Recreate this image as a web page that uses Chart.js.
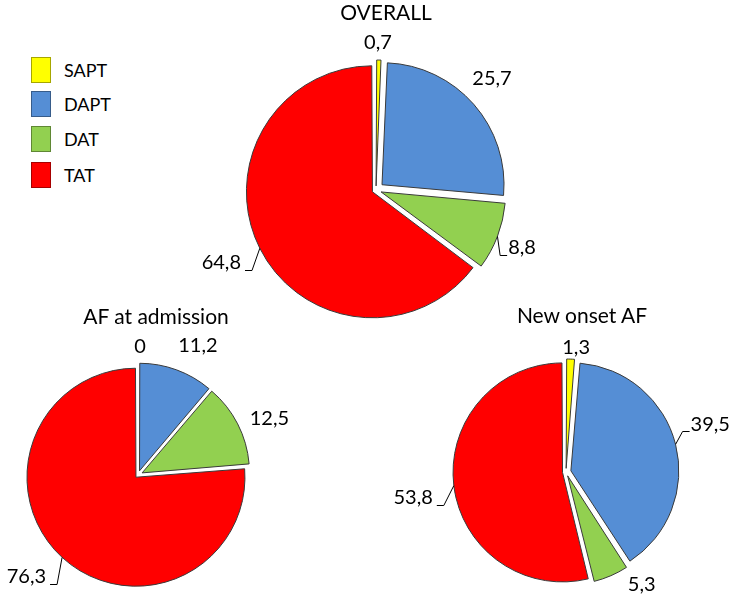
<!DOCTYPE html>
<html>
<head>
<meta charset="utf-8">
<script src="https://cdn.jsdelivr.net/npm/chart.js@4"></script>
<style>
    body { margin: 0; width: 734px; height: 600px; background: #fff; position: relative; overflow: hidden; font-family: Lato, sans-serif; }
    canvas { position: absolute; }
    .ttl { position: absolute; font-size: 21px; color: #000; transform: translate(-50%, -50%); white-space: nowrap; }
    .box { position: absolute; width: 20px; height: 26px; box-sizing: border-box; border: 1px solid rgba(0, 0, 0, 0.35); }
    .lbl { position: absolute; font-size: 18px; color: #000; transform: translateY(-50%); }
</style>
</head>
<body>
<script>
const categories = ["SAPT", "DAPT", "DAT", "TAT"];
const colors = ["#FFFF00", "#558ED5", "#92D050", "#FF0000"];

const overallValues = [0.7, 25.7, 8.8, 64.8];
const admissionValues = [0, 11.2, 12.5, 76.3];
const newOnsetValues = [1.3, 39.5, 5.3, 53.8];

const titles = ["OVERALL", "AF at admission", "New onset AF"];

// legend
const legendTops = [57, 91, 126, 162];
categories.forEach((name, i) => {
    const box = document.createElement("div");
    box.className = "box";
    box.style.left = "31px";
    box.style.top = legendTops[i] + "px";
    box.style.background = colors[i];
    document.body.appendChild(box);
    const lbl = document.createElement("div");
    lbl.className = "lbl";
    lbl.style.left = "64px";
    lbl.style.top = (legendTops[i] + 13) + "px";
    lbl.textContent = name;
    document.body.appendChild(lbl);
});

// value labels with optional elbow leader lines
const pieLabels = {
    id: "pieLabels",
    afterDatasetsDraw(chart, args, opts) {
        const ctx = chart.ctx;
        const ds = chart.data.datasets[0];
        const meta = chart.getDatasetMeta(0);
        ctx.save();
        ctx.font = "20px Lato";
        ctx.fillStyle = "#000";
        ctx.strokeStyle = "#000";
        ctx.lineWidth = 1;
        ctx.textAlign = "center";
        ctx.textBaseline = "middle";
        meta.data.forEach((arc, i) => {
            const p = arc.getProps(["x", "y", "startAngle", "endAngle", "outerRadius"], true);
            const mid = (p.startAngle + p.endAngle) / 2;
            const edge = p.outerRadius + opts.shift;
            const ex = p.x + Math.cos(mid) * edge;
            const ey = p.y + Math.sin(mid) * edge;
            const a = mid + opts.nudge[i] * Math.PI / 180;
            const d = edge + opts.gap[i];
            const lx = p.x + Math.cos(a) * d;
            const ly = p.y + Math.sin(a) * d;
            const text = String(ds.data[i]).replace(".", ",");
            ctx.fillText(text, lx, ly);
            if (opts.leader[i]) {
                const w = ctx.measureText(text).width;
                const by = Math.round(ly + 7) + 0.5;
                ctx.beginPath();
                ctx.moveTo(ex, ey);
                if (Math.cos(mid) > 0) {
                    const left = lx - w / 2 - 1;
                    ctx.lineTo(left - 7, by);
                    ctx.lineTo(left, by);
                } else {
                    const right = lx + w / 2 + 4;
                    ctx.lineTo(right + 7, by);
                    ctx.lineTo(right, by);
                }
                ctx.stroke();
            }
        });
        ctx.restore();
    },
};

// chart.js moves an arc by offset/4 and grows it by up to offset/4 depending
// on its sweep, so pick offsets that push every slice out by about the same amount
function offsetsFor(values, shift) {
    const total = values.reduce((s, v) => s + v, 0);
    return values.map((v) => {
        const c = v / total * 2 * Math.PI;
        return 4 * shift / (2 - Math.sin(Math.min(Math.PI, c)));
    });
}

function makePie(values, cx, cy, radius, shift, labelOpts, title, tx, ty) {
    const size = 420;
    const canvas = document.createElement("canvas");
    canvas.width = size;
    canvas.height = size;
    canvas.style.left = (cx - size / 2) + "px";
    canvas.style.top = (cy - size / 2) + "px";
    document.body.appendChild(canvas);

    const t = document.createElement("div");
    t.className = "ttl";
    t.style.left = tx + "px";
    t.style.top = ty + "px";
    t.textContent = title;
    document.body.appendChild(t);

    new Chart(canvas, {
        type: "pie",
        data: {
            labels: categories,
            datasets: [
                {
                    data: values,
                    backgroundColor: colors,
                    borderColor: "#3a3a3a",
                    borderWidth: 1,
                    offset: offsetsFor(values, shift),
                    hoverOffset: 0,
                },
            ],
        },
        options: {
            responsive: false,
            animation: false,
            radius: radius,
            layout: { padding: 0 },
            events: [],
            plugins: {
                legend: { display: false },
                tooltip: { enabled: false },
                pieLabels: Object.assign({ shift: shift }, labelOpts),
            },
        },
        plugins: [pieLabels],
    });
}

makePie(overallValues, 376, 190, 122, 8, {
    gap: [17, 31, 27, 41],
    nudge: [-0.5, -2.7, 0.7, 1.4],
    leader: [false, false, true, true],
}, titles[0], 386, 11);

makePie(admissionValues, 138, 475, 106, 6, {
    gap: [16, 31, 31, 39],
    nudge: [0.9, 4.6, 3.9, 5],
    leader: [false, false, false, true],
}, titles[1], 156, 315);

makePie(newOnsetValues, 566, 472, 106, 7, {
    gap: [12, 39, 23, 42],
    nudge: [2.3, -4.2, -10.4, -2.6],
    leader: [false, true, false, true],
}, titles[2], 582, 314);
</script>
</body>
</html>
